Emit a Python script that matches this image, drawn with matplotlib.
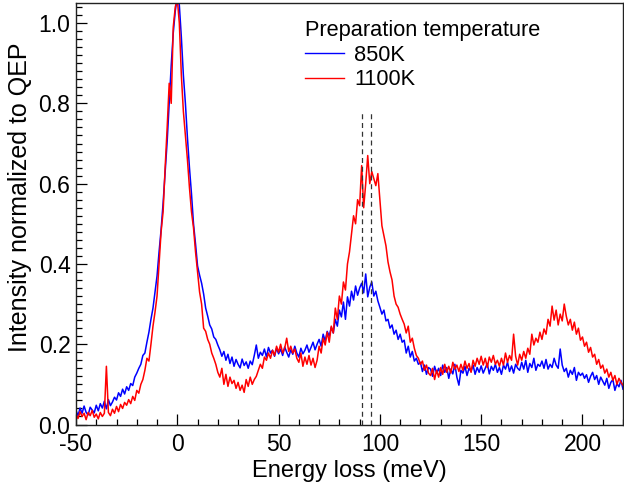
import matplotlib
matplotlib.use("Agg")
import matplotlib.pyplot as plt
from matplotlib.ticker import MultipleLocator
import numpy as np

# ---- data ----
energy_start = -50
energy_step = 1
intensity_850K = [
    0.035, 0.022, 0.041, 0.028, 0.046, 0.030, 0.024, 0.043, 0.036, 0.029,
    0.048, 0.034, 0.052, 0.041, 0.058, 0.039, 0.062, 0.047, 0.056, 0.068,
    0.061, 0.079, 0.070, 0.088, 0.076, 0.094, 0.085, 0.102, 0.097, 0.118,
    0.128, 0.140, 0.150, 0.172, 0.178, 0.205, 0.230, 0.262, 0.290, 0.330,
    0.370, 0.430, 0.485, 0.552, 0.628, 0.705, 0.800, 0.895, 0.975, 1.030,
    1.065, 1.045, 0.965, 0.870, 0.800, 0.715, 0.640, 0.575, 0.500, 0.450,
    0.395, 0.372, 0.352, 0.325, 0.290, 0.270, 0.248, 0.238, 0.218, 0.212,
    0.198, 0.186, 0.170, 0.182, 0.160, 0.175, 0.152, 0.168, 0.145, 0.162,
    0.150, 0.141, 0.163, 0.147, 0.156, 0.140, 0.158, 0.149, 0.172, 0.198,
    0.165, 0.180, 0.172, 0.188, 0.168, 0.192, 0.178, 0.185, 0.170, 0.190,
    0.176, 0.188, 0.172, 0.193, 0.180, 0.168, 0.186, 0.175, 0.195, 0.178,
    0.168, 0.190, 0.176, 0.185, 0.198, 0.180, 0.192, 0.205, 0.186, 0.200,
    0.212, 0.195, 0.225, 0.208, 0.232, 0.220, 0.242, 0.228, 0.262, 0.245,
    0.285, 0.268, 0.305, 0.262, 0.318, 0.295, 0.332, 0.310, 0.345, 0.322,
    0.340, 0.352, 0.328, 0.375, 0.318, 0.342, 0.355, 0.320, 0.332, 0.308,
    0.292, 0.275, 0.285, 0.258, 0.262, 0.240, 0.248, 0.225, 0.235, 0.212,
    0.225, 0.205, 0.210, 0.178, 0.195, 0.168, 0.182, 0.158, 0.165, 0.150,
    0.155, 0.132, 0.148, 0.125, 0.142, 0.138, 0.120, 0.145, 0.128, 0.140,
    0.122, 0.148, 0.130, 0.142, 0.115, 0.138, 0.126, 0.150, 0.118, 0.098,
    0.135, 0.128, 0.145, 0.122, 0.140, 0.132, 0.148, 0.125, 0.142, 0.130,
    0.146, 0.128, 0.140, 0.152, 0.126, 0.145, 0.135, 0.150, 0.130, 0.142,
    0.125, 0.148, 0.138, 0.155, 0.132, 0.146, 0.128, 0.150, 0.140, 0.135,
    0.155, 0.138, 0.160, 0.130, 0.152, 0.142, 0.165, 0.135, 0.150, 0.145,
    0.158, 0.140, 0.162, 0.138, 0.150, 0.142, 0.165, 0.148, 0.140, 0.188,
    0.148, 0.132, 0.140, 0.118, 0.135, 0.125, 0.142, 0.110, 0.130, 0.122,
    0.128, 0.115, 0.124, 0.105, 0.120, 0.130, 0.112, 0.122, 0.100, 0.118,
    0.108, 0.098, 0.115, 0.090, 0.105, 0.112, 0.085, 0.102, 0.094, 0.110,
    0.088,
]
intensity_1100K = [
    0.025, 0.015, 0.032, 0.020, 0.028, 0.012, 0.030, 0.022, 0.035, 0.018,
    0.026, 0.014, 0.030, 0.020, 0.028, 0.145, 0.030, 0.022, 0.038, 0.028,
    0.045, 0.032, 0.050, 0.040, 0.055, 0.048, 0.062, 0.052, 0.070, 0.060,
    0.085, 0.078, 0.100, 0.112, 0.135, 0.165, 0.158, 0.200, 0.245, 0.280,
    0.320, 0.400, 0.480, 0.530, 0.640, 0.740, 0.850, 0.800, 0.990, 1.040,
    1.060, 1.000, 0.870, 0.780, 0.720, 0.660, 0.590, 0.530, 0.490, 0.430,
    0.380, 0.330, 0.300, 0.240, 0.232, 0.212, 0.200, 0.178, 0.165, 0.150,
    0.130, 0.118, 0.140, 0.100, 0.125, 0.095, 0.118, 0.102, 0.110, 0.090,
    0.105, 0.085, 0.098, 0.080, 0.112, 0.095, 0.118, 0.100, 0.112, 0.120,
    0.135, 0.150, 0.140, 0.168, 0.160, 0.178, 0.165, 0.185, 0.172, 0.195,
    0.180, 0.200, 0.178, 0.190, 0.215, 0.182, 0.195, 0.178, 0.188, 0.165,
    0.155, 0.178, 0.145, 0.168, 0.150, 0.172, 0.148, 0.165, 0.142, 0.160,
    0.195, 0.178, 0.215, 0.198, 0.230, 0.205, 0.245, 0.228, 0.290, 0.262,
    0.320, 0.300, 0.355, 0.335, 0.400, 0.430, 0.475, 0.520, 0.500, 0.560,
    0.545, 0.645, 0.540, 0.600, 0.670, 0.600, 0.630, 0.612, 0.595, 0.625,
    0.560, 0.495, 0.470, 0.445, 0.405, 0.380, 0.360, 0.320, 0.300, 0.292,
    0.275, 0.262, 0.250, 0.228, 0.245, 0.205, 0.215, 0.190, 0.172, 0.165,
    0.150, 0.158, 0.135, 0.148, 0.128, 0.122, 0.140, 0.112, 0.135, 0.118,
    0.142, 0.125, 0.150, 0.130, 0.145, 0.128, 0.155, 0.138, 0.148, 0.132,
    0.150, 0.135, 0.158, 0.140, 0.152, 0.130, 0.160, 0.145, 0.165, 0.150,
    0.170, 0.148, 0.165, 0.142, 0.168, 0.155, 0.172, 0.150, 0.160, 0.145,
    0.165, 0.148, 0.178, 0.155, 0.172, 0.160, 0.225, 0.170, 0.148, 0.175,
    0.160, 0.182, 0.165, 0.190, 0.175, 0.225, 0.198, 0.215, 0.205, 0.230,
    0.212, 0.238, 0.225, 0.262, 0.245, 0.295, 0.260, 0.285, 0.248, 0.275,
    0.258, 0.300, 0.270, 0.248, 0.262, 0.235, 0.255, 0.225, 0.240, 0.210,
    0.218, 0.195, 0.205, 0.180, 0.192, 0.168, 0.175, 0.150, 0.162, 0.140,
    0.148, 0.128, 0.138, 0.118, 0.130, 0.110, 0.122, 0.100, 0.115, 0.105,
    0.098,
]
series_labels = ["850K", "1100K"]
legend_title = "Preparation temperature"
marker_energies = [91.3, 95.4]
marker_top = 0.78
x_label = "Energy loss (meV)"
y_label = "Intensity normalized to QEP"

energy = energy_start + energy_step * np.arange(len(intensity_850K))

plt.rcParams['font.family'] = ['Liberation Sans', 'DejaVu Sans']

fig = plt.figure(figsize=(6.24, 4.96), dpi=100)
ax = fig.add_axes([76 / 624, (496 - 424.5) / 496, 547 / 624, 421.5 / 496])

ax.plot(energy, intensity_850K, color='#0000ff', lw=1.1, label=series_labels[0])
ax.plot(energy, intensity_1100K, color='#ff0000', lw=1.1, label=series_labels[1])
ax.vlines(marker_energies, 0, marker_top, colors='#333333', lw=0.9,
          linestyles=(0, (4, 3)))

ax.set_xlim(-50, 220)
ax.set_ylim(0, 1.05)
ax.xaxis.set_major_locator(MultipleLocator(50))
ax.xaxis.set_minor_locator(MultipleLocator(10))
ax.yaxis.set_major_locator(MultipleLocator(0.2))
ax.yaxis.set_minor_locator(MultipleLocator(0.02))
ax.yaxis.set_major_formatter(plt.FuncFormatter(lambda v, p: f"{v:.1f}"))
ax.xaxis.set_major_formatter(plt.FuncFormatter(lambda v, p: f"{v:.0f}"))

ax.tick_params(which='both', direction='in', top=False, right=False, labelsize=16.5, width=0.9)
ax.tick_params(axis='x', which='major', length=8, pad=6)
ax.tick_params(axis='x', which='minor', length=4.5)
ax.tick_params(axis='y', which='major', length=8, pad=4)
ax.tick_params(axis='y', which='minor', length=4.5)
for s in ax.spines.values():
    s.set_linewidth(1.0)
    s.set_color('#222222')

ax.set_xlabel(x_label, fontsize=17)
ax.set_ylabel(y_label, fontsize=18)
ax.xaxis.set_label_coords(0.5, -0.085)
ax.yaxis.set_label_coords(-0.080, 0.54)

leg = ax.legend(title=legend_title, loc='upper left', bbox_to_anchor=(0.4186, 0.960),
                frameon=False, fontsize=15.7, title_fontsize=15.7, handlelength=1.8,
                handletextpad=0.46, labelspacing=0.17, borderpad=0.0, borderaxespad=0.0,
                alignment='left')
for h in leg.get_lines():
    h.set_linewidth(1.0)

fig.savefig("out.png", dpi=100)
